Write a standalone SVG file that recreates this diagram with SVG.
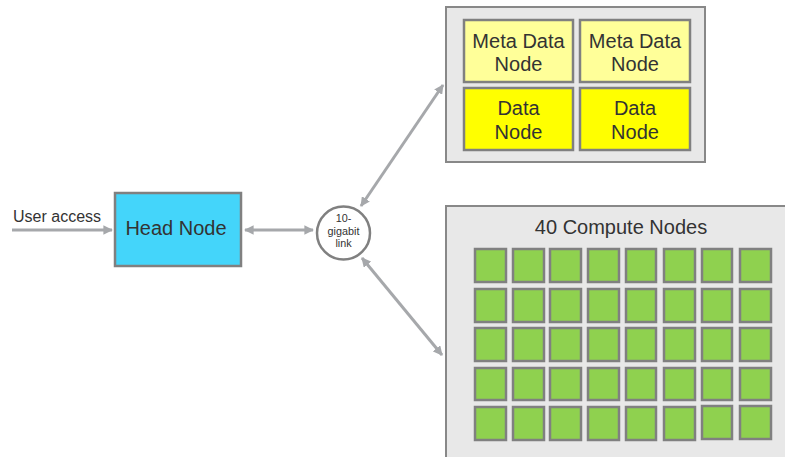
<svg xmlns="http://www.w3.org/2000/svg" width="785" height="457" viewBox="0 0 785 457">
<style>
text{font-family:"Liberation Sans",Arial,sans-serif;fill:#333;}
.box{fill:#e8e8e8;stroke:#888;stroke-width:2;}
.meta{fill:#ffff99;stroke:#808080;stroke-width:2.5;}
.data{fill:#ffff00;stroke:#808080;stroke-width:2.5;}
.cn{fill:#8fd14f;stroke:#808080;stroke-width:2.5;}
.lbl{font-size:20px;text-anchor:middle;}
.sm{font-size:10.8px;text-anchor:middle;}
.conn{stroke:#a6a8ab;stroke-width:3;fill:none;}
</style>
<defs>
<marker id="ah" viewBox="0 0 10 10" refX="9" refY="5" markerWidth="3.2" markerHeight="3.2" orient="auto-start-reverse" markerUnits="strokeWidth">
<path d="M0,0 L10,5 L0,10 z" fill="#a6a8ab"/>
</marker>
</defs>
<g id="connectors">
<line class="conn" x1="12" y1="230" x2="112" y2="230" marker-end="url(#ah)"/>
<line class="conn" x1="245" y1="230" x2="313" y2="230" marker-start="url(#ah)" marker-end="url(#ah)"/>
<line class="conn" x1="361" y1="206" x2="443" y2="85" marker-start="url(#ah)" marker-end="url(#ah)"/>
<line class="conn" x1="362" y1="258" x2="442" y2="355" marker-start="url(#ah)" marker-end="url(#ah)"/>
</g>
<g id="user-access"><text x="13" y="221.5" font-size="16">User access</text></g>
<g id="head-node">
<rect x="115" y="193" width="126" height="73" fill="#44d5fa" stroke="#808080" stroke-width="2.5"/>
<text class="lbl" x="176" y="235">Head Node</text>
</g>
<g id="link">
<circle cx="343.5" cy="233" r="26.5" fill="#fff" stroke="#808080" stroke-width="2.5"/>
<text class="sm" x="343.5" y="222">10-</text>
<text class="sm" x="343.5" y="234.5">gigabit</text>
<text class="sm" x="343.5" y="247">link</text>
</g>
<g id="storage">
<rect class="box" x="446" y="7" width="259" height="155"/>
<g id="meta1"><rect class="meta" x="464" y="20" width="109" height="62"/>
<text class="lbl" x="518.5" y="47.5">Meta Data</text><text class="lbl" x="518.5" y="71">Node</text></g>
<g id="meta2"><rect class="meta" x="580" y="20" width="110" height="62"/>
<text class="lbl" x="635" y="47.5">Meta Data</text><text class="lbl" x="635" y="71">Node</text></g>
<g id="data1"><rect class="data" x="464" y="88" width="109" height="62"/>
<text class="lbl" x="518.5" y="115">Data</text><text class="lbl" x="518.5" y="138.5">Node</text></g>
<g id="data2"><rect class="data" x="580" y="88" width="110" height="62"/>
<text class="lbl" x="635" y="115">Data</text><text class="lbl" x="635" y="138.5">Node</text></g>
</g>
<g id="compute">
<rect class="box" x="446" y="206" width="345" height="260"/>
<text class="lbl" x="621" y="233.5">40 Compute Nodes</text>
<g>
<rect class="cn" x="475" y="249" width="31" height="33"/><rect class="cn" x="513" y="249" width="31" height="33"/><rect class="cn" x="550" y="249" width="31" height="33"/><rect class="cn" x="588" y="249" width="31" height="33"/><rect class="cn" x="626" y="249" width="30" height="33"/><rect class="cn" x="664" y="249" width="31" height="33"/><rect class="cn" x="702" y="249" width="30" height="33"/><rect class="cn" x="740" y="249" width="31" height="33"/>
<rect class="cn" x="475" y="289" width="31" height="33"/><rect class="cn" x="513" y="289" width="31" height="33"/><rect class="cn" x="550" y="289" width="31" height="33"/><rect class="cn" x="588" y="289" width="31" height="33"/><rect class="cn" x="626" y="289" width="30" height="33"/><rect class="cn" x="664" y="289" width="31" height="33"/><rect class="cn" x="702" y="289" width="30" height="33"/><rect class="cn" x="740" y="289" width="31" height="33"/>
<rect class="cn" x="475" y="328" width="31" height="33"/><rect class="cn" x="513" y="328" width="31" height="33"/><rect class="cn" x="550" y="328" width="31" height="33"/><rect class="cn" x="588" y="328" width="31" height="33"/><rect class="cn" x="626" y="328" width="30" height="33"/><rect class="cn" x="664" y="328" width="31" height="33"/><rect class="cn" x="702" y="328" width="30" height="33"/><rect class="cn" x="740" y="328" width="31" height="33"/>
<rect class="cn" x="475" y="368" width="31" height="32"/><rect class="cn" x="513" y="368" width="31" height="32"/><rect class="cn" x="550" y="368" width="31" height="32"/><rect class="cn" x="588" y="368" width="31" height="32"/><rect class="cn" x="626" y="368" width="30" height="32"/><rect class="cn" x="664" y="368" width="31" height="32"/><rect class="cn" x="702" y="368" width="30" height="32"/><rect class="cn" x="740" y="368" width="31" height="32"/>
<rect class="cn" x="475" y="407" width="31" height="33"/><rect class="cn" x="513" y="407" width="31" height="33"/><rect class="cn" x="550" y="407" width="31" height="33"/><rect class="cn" x="588" y="407" width="31" height="33"/><rect class="cn" x="626" y="407" width="30" height="33"/><rect class="cn" x="664" y="407" width="31" height="33"/><rect class="cn" x="702" y="406" width="30" height="33"/><rect class="cn" x="740" y="406" width="31" height="33"/>
</g>
</g>
</svg>
